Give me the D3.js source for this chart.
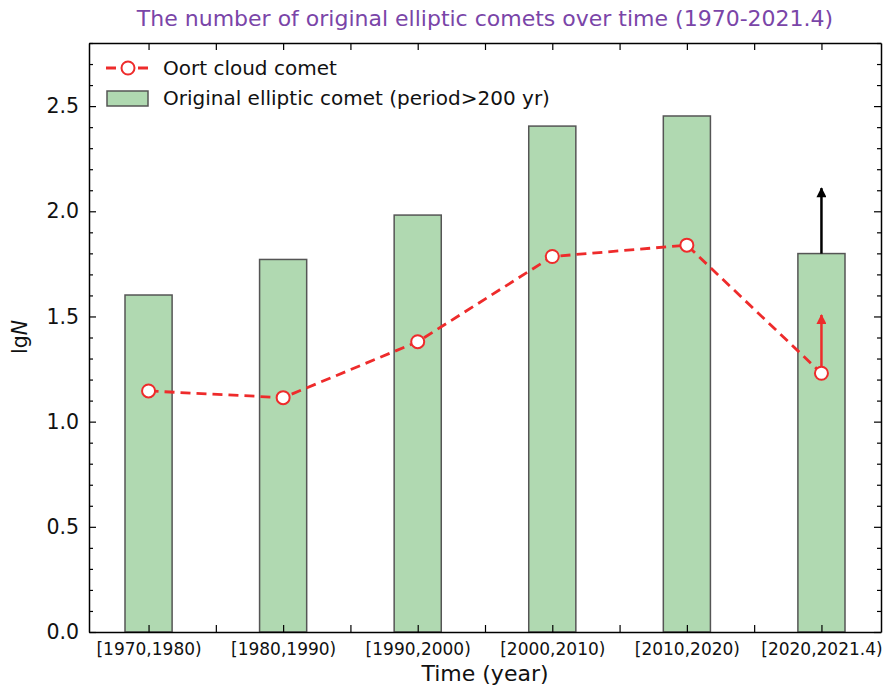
<!DOCTYPE html>
<html>
<head>
<meta charset="utf-8">
<script src="https://cdn.jsdelivr.net/npm/d3@7"></script>
<style>
body { margin: 0; background: #fff; }
text { font-family: "DejaVu Sans", sans-serif; }
</style>
</head>
<body>
<div id="chart"></div>
<script>
const categories = ["[1970,1980)", "[1980,1990)", "[1990,2000)", "[2000,2010)", "[2010,2020)", "[2020,2021.4)"]
const originalLg = [1.602, 1.771, 1.982, 2.405, 2.453, 1.799]
const oortLg = [1.146, 1.114, 1.380, 1.785, 1.839, 1.230]
const yTicks = [0.0, 0.5, 1.0, 1.5, 2.0, 2.5]
// lower-limit arrows on the last interval: [from, to]
const barArrow = [1.799, 2.11]
const oortArrow = [1.230, 1.507]

const dimensions = { width: 885, height: 686 }
const margin = { top: 43, right: 4, bottom: 54, left: 89 }
const barWidth = 0.35

const x = d3.scaleLinear()
	.domain([-0.4425, 5.4425])
	.range([margin.left, dimensions.width - margin.right])

const y = d3.scaleLinear()
	.domain([0, 2.8])
	.range([dimensions.height - margin.bottom, margin.top])

const svg = d3.select("#chart")
	.append("svg")
		.attr("width", dimensions.width)
		.attr("height", dimensions.height)

const defs = svg.append("defs")
const addHead = function(id, color) {
	defs.append("marker")
		.attr("id", id)
		.attr("viewBox", "0 0 10 10")
		.attr("refX", 9)
		.attr("refY", 5)
		.attr("markerUnits", "userSpaceOnUse")
		.attr("markerWidth", 16)
		.attr("markerHeight", 10)
		.attr("orient", "auto")
	.append("path")
		.attr("d", "M0,0 L10,5 L0,10 Z")
		.attr("fill", color)
}
addHead("headBlack", "#000")
addHead("headRed", "#ee2b2b")

// bars
svg.append("g")
	.selectAll("rect")
	.data(originalLg)
	.enter().append("rect")
		.attr("x", (d, i) => x(i - barWidth / 2))
		.attr("y", d => y(d))
		.attr("width", x(barWidth) - x(0))
		.attr("height", d => y(0) - y(d))
		.attr("fill", "#b0d9b1")
		.attr("stroke", "#555")
		.attr("stroke-width", 1.5)

// arrow on last bar
const last = categories.length - 1
svg.append("line")
	.attr("x1", x(last)).attr("x2", x(last))
	.attr("y1", y(barArrow[0])).attr("y2", y(barArrow[1]))
	.attr("stroke", "#000")
	.attr("stroke-width", 2.5)
	.attr("marker-end", "url(#headBlack)")

// oort line
svg.append("path")
	.datum(oortLg)
	.attr("fill", "none")
	.attr("stroke", "#ee2b2b")
	.attr("stroke-width", 2.8)
	.attr("stroke-dasharray", "10,6")
	.attr("d", d3.line().x((d, i) => x(i)).y(d => y(d)))

svg.append("line")
	.attr("x1", x(last)).attr("x2", x(last))
	.attr("y1", y(oortArrow[0])).attr("y2", y(oortArrow[1]))
	.attr("stroke", "#ee2b2b")
	.attr("stroke-width", 2.5)
	.attr("marker-end", "url(#headRed)")

svg.append("g")
	.selectAll("circle")
	.data(oortLg)
	.enter().append("circle")
		.attr("cx", (d, i) => x(i))
		.attr("cy", d => y(d))
		.attr("r", 6.5)
		.attr("fill", "#fff")
		.attr("stroke", "#ee2b2b")
		.attr("stroke-width", 2)

// axes, ticks pointing inward on all four sides
const xMajor = d3.range(categories.length)
const xMinor = d3.range(-0.5, 5.6, 0.5).filter(v => v % 1 !== 0 && v > -0.44 && v < 5.44)
const yMinor = d3.range(0, 2.81, 0.1).map(v => +v.toFixed(1)).filter(v => !yTicks.includes(v))

const h = dimensions.height - margin.bottom
const w = dimensions.width - margin.right

const gx = svg.append("g")
	.attr("transform", `translate(0,${h})`)
	.call(d3.axisBottom(x).tickValues(xMajor).tickSizeInner(-7).tickSizeOuter(0).tickFormat(i => categories[i]))
gx.selectAll("text").attr("y", 11).attr("font-size", 17).attr("font-family", "DejaVu Sans")
gx.append("g").call(d3.axisBottom(x).tickValues(xMinor).tickSizeInner(-7).tickSizeOuter(0).tickFormat(""))
	.call(g => g.select(".domain").remove())

const gxTop = svg.append("g")
	.attr("transform", `translate(0,${margin.top})`)
	.call(d3.axisTop(x).tickValues(xMajor.concat(xMinor)).tickSizeInner(-7).tickSizeOuter(0).tickFormat(""))

const gy = svg.append("g")
	.attr("transform", `translate(${margin.left},0)`)
	.call(d3.axisLeft(y).tickValues(yTicks).tickSizeInner(-7).tickSizeOuter(0).tickFormat(d3.format(".1f")))
gy.selectAll("text").attr("x", -10).attr("font-size", 20.5).attr("font-family", "DejaVu Sans")
gy.append("g").call(d3.axisLeft(y).tickValues(yMinor).tickSizeInner(-4).tickSizeOuter(0).tickFormat(""))
	.call(g => g.select(".domain").remove())

const gyRight = svg.append("g")
	.attr("transform", `translate(${w},0)`)
	.call(d3.axisRight(y).tickValues(yTicks).tickSizeInner(-7).tickSizeOuter(0).tickFormat(""))
gyRight.append("g").call(d3.axisRight(y).tickValues(yMinor).tickSizeInner(-4).tickSizeOuter(0).tickFormat(""))
	.call(g => g.select(".domain").remove())

svg.selectAll(".domain").attr("stroke", "#000").attr("stroke-width", 1.5)
svg.selectAll(".tick line").attr("stroke", "#000").attr("stroke-width", 1.2)
svg.selectAll(".tick text").attr("fill", "#111")

// title and labels
svg.append("text")
	.attr("x", (margin.left + w) / 2)
	.attr("y", 26)
	.attr("text-anchor", "middle")
	.attr("font-size", 22)
	.attr("fill", "#7a45a8")
	.text("The number of original elliptic comets over time (1970-2021.4)")

svg.append("text")
	.attr("x", (margin.left + w) / 2)
	.attr("y", 681)
	.attr("text-anchor", "middle")
	.attr("font-size", 22)
	.attr("fill", "#111")
	.text("Time (year)")

const yl = svg.append("text")
	.attr("transform", `translate(27,337) rotate(-90)`)
	.attr("text-anchor", "middle")
	.attr("font-size", 20.5)
	.attr("fill", "#111")
yl.append("tspan").text("lg")
yl.append("tspan").attr("font-style", "italic").text("N")

// legend
const legend = svg.append("g")
legend.append("line")
	.attr("x1", 106).attr("x2", 150).attr("y1", 68).attr("y2", 68)
	.attr("stroke", "#ee2b2b").attr("stroke-width", 2.8).attr("stroke-dasharray", "10,6")
legend.append("circle")
	.attr("cx", 128).attr("cy", 68).attr("r", 6.5)
	.attr("fill", "#fff").attr("stroke", "#ee2b2b").attr("stroke-width", 2)
legend.append("text")
	.attr("x", 163).attr("y", 75)
	.attr("font-size", 20).attr("fill", "#111")
	.text("Oort cloud comet")
legend.append("rect")
	.attr("x", 107).attr("y", 91).attr("width", 41).attr("height", 15)
	.attr("fill", "#b0d9b1").attr("stroke", "#555").attr("stroke-width", 1.5)
legend.append("text")
	.attr("x", 163).attr("y", 105)
	.attr("font-size", 20).attr("fill", "#111")
	.text("Original elliptic comet (period>200 yr)")
</script>
</body>
</html>
